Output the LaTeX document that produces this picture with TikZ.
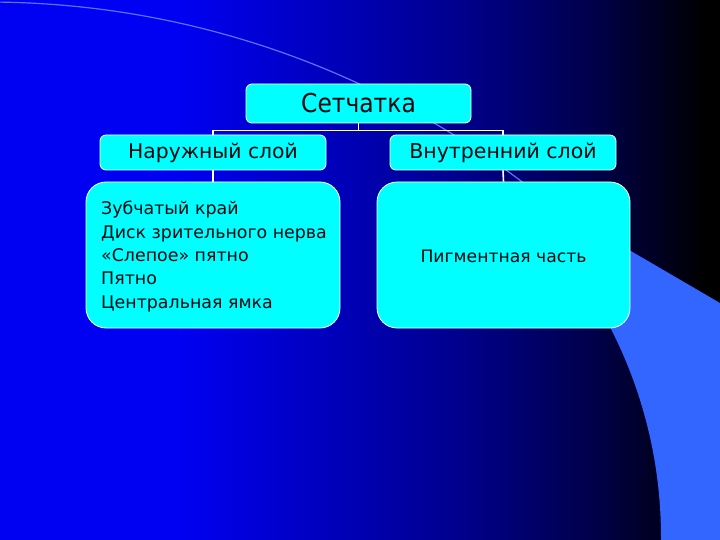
\documentclass[tikz,border=0pt]{standalone}
\usepackage{fontspec}
\setmainfont{DejaVu Sans}
\newfontfamily\headfont{DejaVu Sans}[FakeStretch=0.9]
\definecolor{boxcyan}{RGB}{0,255,255}
\definecolor{bgA}{RGB}{0,0,242}
\definecolor{bgB}{RGB}{0,0,140}
\definecolor{bgC}{RGB}{0,0,70}
\definecolor{bgD}{RGB}{0,0,28}
\definecolor{bgE}{RGB}{0,0,0}
\definecolor{lightband}{RGB}{51,102,255}
\definecolor{arcline}{RGB}{90,115,255}
\definecolor{txt}{RGB}{0,8,16}
\tikzset{
  cbox/.style={draw=white, line width=0.8pt, fill=boxcyan, text=txt, inner sep=0pt, rounded corners=6pt},
  bigbox/.style={cbox, rounded corners=20pt},
  conn/.style={draw=white, line width=1.6pt}
}
\begin{document}
\begin{tikzpicture}[x=1pt, y=-1pt]
\useasboundingbox (0,0) rectangle (720,540);
% background gradient
\fill[bgA] (0,0) rectangle (181,540);
\shade[left color=bgA, right color=bgB] (180,0) rectangle (461,540);
\shade[left color=bgB, right color=bgC] (460,0) rectangle (601,540);
\shade[left color=bgC, right color=bgD] (600,0) rectangle (666,540);
\shade[left color=bgD, right color=bgE] (665,0) rectangle (706,540);
\fill[bgE] (705,0) rectangle (720,540);
% light band at the right
\fill[lightband] (600,233) -- (720,303) -- (720,540) -- (661,540)
  -- plot[domain=0:31, samples=60] ({203+458*cos(\x)},{537-458*sin(\x)}) -- cycle;
% thin arc
\draw[arcline, line width=1.2pt] plot[domain=48:91, samples=90] ({-12+883*cos(\x)},{885-883*sin(\x)});
% boxes
\node[cbox, minimum width=225pt, minimum height=39pt, font=\headfont\fontsize{26}{30}\selectfont] (top) at (358.5,103.5) {Сетчатка};
\node[cbox, minimum width=226pt, minimum height=35pt, font=\fontsize{20.3}{24}\selectfont] (ml) at (213,152.5) {Наружный слой};
\node[cbox, minimum width=226pt, minimum height=35pt, font=\fontsize{20.5}{24}\selectfont] (mr) at (503,152.5) {Внутренний слой};
\node[bigbox, minimum width=254pt, minimum height=146pt] (ll) at (213,255) {};
\node[bigbox, minimum width=253pt, minimum height=146pt] (lr) at (503.5,255) {};
\node[text=txt, inner sep=0pt, font=\fontsize{17.2}{22}\selectfont] (lrtext) at (503.5,256) {Пигментная часть};
\node[anchor=west, align=left, text=txt, inner sep=0pt, font=\fontsize{17.4}{23.4}\selectfont] (lltext) at (101,256.5) {Зубчатый край\\Диск зрительного нерва\\«Слепое» пятно\\Пятно\\Центральная ямка};
% connectors
\draw[conn] (top.south) -- ++(0,7) -| (ml.north);
\draw[conn] (top.south) -- ++(0,7) -| (mr.north);
\draw[conn] (ml.south) -- (ll.north);
\draw[conn] (mr.south) -- (lr.north);
\end{tikzpicture}
\end{document}
